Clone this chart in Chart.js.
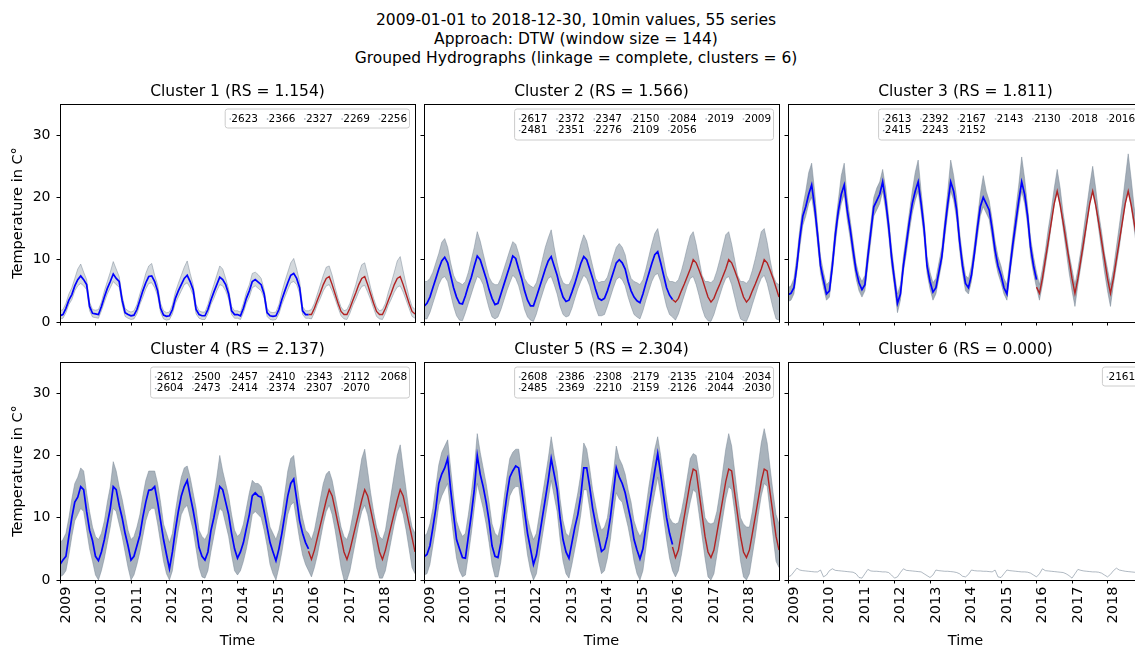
<!DOCTYPE html>
<html>
<head>
<meta charset="utf-8">
<script src="https://cdn.jsdelivr.net/npm/chart.js"></script>
<style>
  body { margin: 0; background: #fff; overflow: hidden; }
  #fig { position: relative; width: 1135px; height: 647px; overflow: hidden; background: #fff; }
  #fig canvas { position: absolute; }
  #suptitle { position: absolute; left: 0; top: 10.5px; width: 1152px; text-align: center;
    font-family: 'DejaVu Sans', sans-serif; font-size: 15.5px; line-height: 19px; color: #000; }
</style>
</head>
<body>
<div id="fig">
  <div id="suptitle">2009-01-01 to 2018-12-30, 10min values, 55 series<br>Approach: DTW (window size = 144)<br>Grouped Hydrographs (linkage = complete, clusters = 6)</div>
</div>
<script>
// tick labels
const yearTicks = [2009, 2010, 2011, 2012, 2013, 2014, 2015, 2016, 2017, 2018];
const tempTicks = [0, 10, 20, 30];

// subplot titles and legend entries (station ids)
const clusterTitles = ['Cluster 1 (RS = 1.154)', 'Cluster 2 (RS = 1.566)', 'Cluster 3 (RS = 1.811)',
  'Cluster 4 (RS = 2.137)', 'Cluster 5 (RS = 2.304)', 'Cluster 6 (RS = 0.000)'];
const c1Stations = ['2623', '2366', '2327', '2269', '2256'];
const c2Stations = ['2617', '2481', '2372', '2351', '2347', '2276', '2150', '2109', '2084', '2056', '2019', '2009'];
const c3Stations = ['2613', '2415', '2392', '2243', '2167', '2152', '2143', '2130', '2018', '2016'];
const c4Stations = ['2612', '2604', '2500', '2473', '2457', '2414', '2410', '2374', '2343', '2307', '2112', '2070', '2068'];
const c5Stations = ['2608', '2485', '2386', '2369', '2308', '2210', '2179', '2159', '2135', '2126', '2104', '2044', '2034', '2030'];
const c6Stations = ['2161'];

// monthly values (1st of each month), blue = 2009-01..2016-01, red = 2016-01..2019-01
const c1Blue = [1.0,1.2,2.2,3.5,4.4,5.8,6.8,7.4,6.8,6.0,2.5,1.4,
  1.3,1.2,2.5,4.0,5.4,6.5,7.7,7.0,6.5,3.5,1.5,1.2,
  1.0,1.1,2.0,3.5,5.0,6.3,7.3,7.4,6.5,5.0,2.2,1.1,
  0.9,1.0,2.0,3.8,5.0,6.0,7.0,7.5,6.5,5.2,2.0,1.2,
  1.0,1.0,2.0,3.5,4.8,6.0,7.2,6.8,6.0,4.5,1.8,1.2,
  1.2,1.0,2.2,3.8,5.0,6.5,6.8,6.4,6.0,4.5,1.5,1.0,
  0.9,1.0,2.0,3.6,5.0,6.3,7.5,7.8,7.0,5.5,1.8,1.2,
  1.2];
const c1Red = [1.2,1.2,2.2,3.5,4.7,6.0,7.0,7.3,6.0,4.5,3.0,1.7,
  1.2,1.2,2.2,3.5,4.7,6.0,7.0,7.3,6.0,4.5,3.0,1.7,
  1.2,1.2,2.2,3.5,4.7,6.0,7.0,7.3,6.0,4.5,3.0,1.7,
  1.3];
const c1High = [1.8,2.0,3.0,4.5,5.5,7.0,8.5,9.3,8.0,6.8,3.2,2.0,
  1.9,2.0,3.2,5.0,6.5,8.0,9.7,8.5,7.3,4.2,2.2,1.8,
  1.6,1.8,2.8,4.5,6.0,7.8,9.0,9.4,7.5,6.0,3.0,1.8,
  1.5,1.6,2.8,4.8,6.2,7.5,8.8,9.8,7.8,6.0,2.8,1.8,
  1.6,1.6,2.8,4.5,6.0,7.5,9.0,8.5,7.0,5.3,2.5,1.8,
  1.8,1.6,3.0,4.8,6.0,7.8,8.0,7.6,7.0,5.2,2.2,1.6,
  1.5,1.6,2.8,4.8,6.5,8.0,9.5,10.2,8.5,6.5,2.5,1.8,
  1.8,2.0,3.0,4.5,6.0,7.5,8.8,9.0,7.5,5.5,3.8,2.4,
  1.8,2.0,3.0,4.5,6.0,7.8,9.2,9.5,7.6,5.5,3.8,2.4,
  1.8,2.0,3.0,4.8,6.3,8.0,9.8,10.5,8.2,6.0,4.0,2.5,
  2.0];
const c1Low = [0.5,0.6,1.5,2.8,3.6,5.0,5.8,6.2,5.8,5.2,1.8,0.8,
  0.7,0.6,1.8,3.2,4.5,5.5,6.5,6.0,5.6,2.8,0.9,0.6,
  0.4,0.5,1.3,2.8,4.0,5.3,6.2,6.3,5.5,4.2,1.5,0.5,
  0.3,0.4,1.3,3.0,4.0,5.0,6.0,6.3,5.5,4.3,1.3,0.6,
  0.4,0.4,1.3,2.8,3.8,5.0,6.0,5.8,5.0,3.7,1.2,0.6,
  0.6,0.4,1.5,3.0,4.0,5.5,5.8,5.4,5.0,3.8,0.9,0.4,
  0.3,0.4,1.3,2.8,4.0,5.2,6.3,6.5,6.0,4.6,1.2,0.6,
  0.6,0.5,1.5,2.8,3.8,5.0,5.8,6.0,5.0,3.7,2.3,1.0,
  0.5,0.4,1.4,2.7,3.7,4.9,5.7,5.9,4.8,3.6,2.2,0.9,
  0.5,0.4,1.4,2.7,3.7,4.8,5.6,5.8,4.8,3.5,2.2,0.9,
  0.6];

const c2Blue = [2.5,3.0,4.0,5.5,7.0,8.5,9.8,10.4,9.5,7.5,5.5,4.0,
  3.0,2.9,4.2,5.8,7.2,9.0,10.6,10.0,8.5,7.0,5.2,3.8,
  2.8,3.0,4.5,6.0,7.5,9.0,10.6,10.2,8.5,7.0,5.0,3.5,
  2.6,2.6,4.0,5.5,7.0,8.5,9.8,10.5,9.0,7.5,5.5,4.0,
  3.3,3.5,4.8,6.2,7.8,9.4,10.5,10.0,8.5,7.0,5.2,3.8,
  3.5,3.8,5.0,6.5,8.0,9.5,10.0,9.5,8.5,6.5,5.0,4.0,
  3.4,3.1,4.5,6.2,7.8,9.4,10.8,11.3,9.5,7.5,5.5,4.3,
  3.6];
const c2Red = [3.6,3.2,3.8,5.0,6.1,7.3,8.5,10.0,9.5,8.3,7.0,5.5,
  4.0,3.2,3.8,5.0,6.1,7.3,8.5,10.0,9.5,8.3,7.0,5.5,
  4.0,3.2,3.8,5.0,6.1,7.3,8.5,10.0,9.5,8.3,7.0,5.5,
  4.0];
const c2High = [6.5,6.5,7.0,8.0,9.5,11.0,12.8,13.4,12.0,9.5,7.5,6.5,
  6.3,6.0,6.5,8.0,10.0,12.0,14.5,13.0,11.0,9.0,7.2,6.3,
  6.0,6.0,7.0,8.5,10.0,11.5,12.9,12.5,11.0,9.0,7.0,6.2,
  5.8,5.5,6.3,8.0,10.0,12.0,13.5,14.8,12.0,9.5,7.5,6.3,
  6.0,6.0,7.0,8.5,10.5,12.5,14.0,13.0,11.0,9.0,7.0,6.3,
  6.5,6.5,7.2,8.8,10.5,12.0,12.6,12.0,10.8,8.5,7.0,6.5,
  6.3,6.0,6.8,8.5,10.5,12.5,14.2,15.0,12.5,10.0,7.5,6.5,
  6.5,6.3,6.8,8.2,10.0,12.0,13.8,14.5,12.5,10.0,7.5,6.5,
  6.5,6.3,6.8,8.2,10.0,12.0,14.0,14.5,12.5,10.0,7.5,6.5,
  6.5,6.2,6.8,8.3,10.2,12.3,14.5,15.0,12.8,10.0,7.5,6.3,
  6.0];
const c2Low = [0.5,0.5,1.5,3.0,4.5,6.0,7.0,7.3,6.5,4.5,2.5,1.0,
  0.3,0.2,1.5,3.0,4.5,6.0,7.3,7.0,6.0,4.0,2.2,0.8,
  0.5,0.8,2.0,3.5,5.0,6.3,7.5,7.0,5.8,4.0,2.0,0.8,
  0.3,0.1,1.3,3.0,4.5,6.0,7.0,7.3,6.0,4.5,2.5,1.2,
  0.8,1.0,2.2,3.8,5.3,6.5,7.5,7.0,5.8,4.0,2.3,1.0,
  1.0,1.2,2.5,4.0,5.5,6.8,7.2,6.8,5.8,4.0,2.5,1.2,
  0.8,0.5,1.8,3.5,5.0,6.5,7.5,7.8,6.5,4.5,2.5,1.2,
  0.8,0.3,1.3,2.8,4.3,5.8,7.0,7.3,6.0,4.2,2.2,0.8,
  0.2,0.1,1.2,2.8,4.3,5.8,7.0,7.3,6.0,4.0,2.0,0.5,
  0.2,0.1,1.2,2.8,4.3,5.8,7.0,7.5,6.2,4.2,2.2,0.5,
  0.3];

const c3Blue = [4.4,4.6,5.5,9.0,13.5,17.0,18.5,20.5,22.0,18.5,14.0,9.0,
  6.7,4.5,5.0,9.0,14.0,17.8,20.5,22.0,18.0,15.0,11.5,8.3,
  6.3,5.2,6.0,10.5,14.5,18.5,19.5,20.5,22.5,19.5,15.5,10.5,
  6.7,3.0,4.5,9.0,12.5,16.0,19.0,21.0,22.5,19.0,15.0,9.0,
  6.5,4.8,5.5,8.0,10.5,15.0,19.0,22.5,21.0,18.0,13.0,9.0,
  6.2,5.5,7.5,11.0,15.0,18.5,20.0,19.0,18.0,15.0,11.5,9.0,
  7.5,5.5,4.5,8.5,12.5,16.0,19.5,22.5,20.5,17.0,12.0,9.0,
  6.8];
const c3Red = [5.6,4.6,7.0,10.0,13.0,16.0,19.0,21.0,18.8,16.0,13.0,10.0,
  7.0,4.6,7.0,10.0,13.0,16.0,19.0,21.0,18.8,16.0,13.0,10.0,
  7.0,4.6,7.0,10.0,13.0,16.0,19.0,21.0,18.8,16.0,13.0,10.0,
  7.0];
const c3High = [5.5,5.8,7.0,10.5,15.0,18.5,21.0,24.0,25.5,21.0,15.5,10.5,
  8.0,6.0,6.5,10.5,15.5,19.5,23.5,25.5,20.0,16.5,13.0,9.5,
  7.5,6.5,7.5,12.0,16.0,20.0,21.5,22.5,24.5,21.5,17.0,12.0,
  8.0,4.5,6.0,10.5,14.0,17.5,21.0,24.0,26.0,21.0,16.5,10.5,
  8.0,6.3,7.0,9.5,12.0,16.5,21.0,26.0,23.5,20.0,14.5,10.5,
  7.5,7.0,9.0,12.5,16.5,20.5,23.5,21.0,19.5,16.5,13.0,10.5,
  9.0,7.0,6.0,10.0,14.0,18.0,22.0,26.5,23.0,18.5,13.5,10.5,
  8.0,6.0,8.5,11.5,15.0,18.0,21.5,24.5,21.5,17.5,14.5,11.0,
  8.5,6.0,8.5,11.5,15.0,18.5,22.0,25.0,21.5,17.5,14.5,11.0,
  8.5,6.0,8.5,12.0,15.5,19.0,23.0,27.0,23.0,18.5,15.0,11.5,
  8.5];
const c3Low = [3.3,3.5,4.5,8.0,12.0,15.5,17.0,19.0,20.0,17.0,12.5,7.8,
  5.5,3.5,4.0,8.0,12.5,16.5,19.0,20.5,16.5,13.5,10.0,7.0,
  5.0,4.0,5.0,9.0,13.0,17.0,18.0,19.0,21.0,18.0,14.0,9.0,
  5.5,1.5,3.5,8.0,11.0,14.5,17.5,19.5,21.0,17.5,13.5,7.8,
  5.3,3.5,4.5,7.0,9.5,13.5,17.5,21.0,19.5,16.5,11.5,7.8,
  5.0,4.5,6.5,10.0,13.5,17.0,18.5,17.5,16.5,13.5,10.0,7.8,
  6.3,4.5,3.5,7.5,11.0,14.5,18.0,21.0,19.0,15.5,10.5,7.8,
  5.5,3.5,6.0,9.0,12.0,15.5,19.0,21.0,18.5,15.0,11.5,8.0,
  5.0,2.5,6.0,9.0,12.0,15.5,19.0,21.0,18.5,15.0,11.5,8.0,
  5.0,2.5,6.0,9.0,12.0,15.5,19.0,21.0,18.5,15.0,11.5,8.0,
  5.5];

const c4Blue = [2.5,3.2,3.8,7.0,10.0,12.5,13.3,15.0,14.5,11.0,8.0,6.3,
  3.8,3.1,4.5,6.5,9.0,11.5,15.0,14.5,12.0,10.0,7.5,5.5,
  3.2,3.8,5.5,7.2,10.1,12.5,14.4,14.5,15.0,12.5,9.5,6.5,
  4.1,1.8,4.5,8.0,11.0,13.5,15.0,16.0,13.5,11.2,8.5,5.2,
  3.8,3.2,4.5,7.9,10.0,12.5,15.0,14.5,12.5,10.5,7.5,5.0,
  3.5,4.5,6.0,8.3,10.5,13.5,14.0,13.5,13.3,11.0,8.5,6.0,
  4.5,3.1,5.0,7.5,10.5,13.5,15.5,16.2,13.0,9.5,7.5,6.0,
  5.0];
const c4Red = [4.6,3.3,4.8,6.8,8.8,10.8,12.8,14.5,13.5,11.3,9.0,6.8,
  4.5,3.3,4.8,6.8,8.8,10.8,12.8,14.5,13.5,11.3,9.0,6.8,
  4.5,3.3,4.8,6.8,8.8,10.8,12.8,14.5,13.5,11.3,9.0,6.8,
  4.5];
const c4High = [6.0,6.5,7.5,10.0,13.0,15.5,16.5,18.0,17.5,14.0,11.0,8.5,
  7.0,6.5,7.5,9.5,12.5,15.0,19.0,17.5,15.0,13.0,10.5,8.0,
  6.5,7.0,8.5,10.5,13.5,16.0,17.5,17.5,17.5,15.5,12.5,9.0,
  7.5,6.0,7.5,11.0,14.0,16.5,18.0,18.3,16.5,14.0,11.5,8.0,
  7.0,6.5,7.5,11.0,13.5,16.5,20.0,17.5,15.5,13.5,10.5,8.0,
  7.0,7.5,9.0,11.5,14.0,16.0,15.5,15.5,15.0,13.5,11.0,8.5,
  7.5,6.5,8.0,10.5,14.0,17.5,19.5,20.0,16.0,12.5,10.0,8.0,
  7.5,6.5,8.0,10.5,13.0,15.5,17.0,17.5,16.0,13.5,11.0,8.5,
  7.0,6.5,8.0,10.5,13.5,16.5,19.5,21.0,17.5,14.0,11.0,8.5,
  7.0,6.5,8.0,11.0,14.0,17.0,20.0,21.7,18.0,14.5,11.0,8.5,
  7.5];
const c4Low = [0.5,0.8,1.5,4.0,7.0,9.5,10.5,11.5,11.0,8.0,5.0,3.0,
  0.8,0.0,1.5,3.5,6.0,8.5,11.5,11.0,9.0,7.0,4.5,2.0,
  0.0,0.8,2.5,4.5,7.0,9.5,11.0,11.5,11.5,9.0,6.0,3.0,
  1.0,0.0,1.5,5.0,8.0,10.5,11.5,12.0,10.0,8.0,5.0,2.0,
  0.5,0.3,1.5,4.5,7.0,9.5,11.5,11.0,9.0,7.0,4.0,1.5,
  0.8,1.5,3.0,5.0,7.5,10.5,11.0,10.5,10.0,8.0,5.5,2.5,
  1.0,0.0,2.0,4.5,7.5,10.5,12.0,12.5,9.5,6.5,4.0,2.5,
  1.5,0.5,2.0,4.0,6.5,9.0,11.0,12.0,10.5,8.0,5.0,2.0,
  0.0,0.0,1.5,4.0,6.5,9.0,11.0,12.0,10.5,8.0,5.0,2.0,
  0.3,0.3,1.5,4.0,6.5,9.0,11.0,12.0,10.5,8.0,5.0,2.0,
  1.0];

const c5Blue = [3.7,4.1,5.5,8.4,11.5,15.5,17.0,18.0,19.5,14.5,10.5,6.5,
  5.0,3.6,3.5,7.0,10.5,14.5,20.0,17.0,15.0,12.5,9.5,5.5,
  3.8,3.6,6.0,10.0,13.5,16.5,17.5,18.3,18.0,14.5,11.0,7.5,
  5.0,2.5,4.0,7.0,10.0,13.0,16.0,19.5,17.0,14.5,10.0,6.5,
  4.5,3.5,6.0,8.5,10.5,13.5,18.0,18.0,15.0,11.5,9.0,6.8,
  4.6,5.0,7.0,10.0,14.0,18.0,16.5,15.5,14.0,11.7,9.5,6.5,
  4.8,3.4,5.0,8.5,11.5,14.5,17.5,20.3,17.0,13.5,10.0,7.5,
  5.7];
const c5Red = [5.3,3.6,4.8,7.5,10.2,13.0,15.8,17.8,17.5,14.0,10.5,7.0,
  4.5,3.6,4.8,7.5,10.2,13.0,15.8,17.8,17.5,14.0,10.5,7.0,
  4.5,3.6,4.8,7.5,10.2,13.0,15.8,17.8,17.5,14.0,10.5,7.0,
  4.8];
const c5High = [7.0,7.5,9.0,11.5,15.0,18.5,20.5,21.5,22.5,18.0,13.5,9.5,
  8.0,7.0,7.5,10.5,14.0,18.0,23.5,20.5,18.0,15.5,12.5,9.0,
  7.5,7.0,9.0,13.0,16.5,19.5,20.5,21.0,21.0,17.5,14.0,10.0,
  8.0,6.5,7.5,10.5,13.5,16.5,19.5,23.0,20.0,17.5,13.0,9.5,
  7.5,7.0,9.0,11.5,14.0,17.0,22.0,21.0,18.0,14.5,12.0,9.5,
  8.0,8.5,10.0,13.5,17.0,21.5,19.5,18.5,17.0,14.5,12.5,9.5,
  8.0,7.0,8.0,11.5,15.0,18.0,21.0,23.0,20.0,16.5,13.0,10.0,
  9.2,9.0,9.2,11.0,13.5,16.5,19.5,20.3,20.0,17.0,13.5,10.0,
  9.2,9.0,9.2,11.0,14.0,17.5,21.0,23.5,21.5,17.5,13.5,10.0,
  9.0,8.5,8.5,11.0,14.5,18.5,22.0,24.3,22.0,18.0,14.0,10.5,
  9.0];
const c5Low = [0.8,1.0,2.5,5.5,8.5,12.0,13.5,14.5,15.5,11.0,7.0,3.5,
  1.5,0.5,0.8,4.0,7.5,11.5,15.5,13.5,11.5,9.0,6.0,2.5,
  0.5,0.5,3.0,7.0,10.5,13.5,14.5,15.0,15.0,11.5,7.5,4.0,
  1.5,0.0,1.0,4.0,7.0,10.0,13.0,16.0,13.5,11.0,6.5,3.0,
  1.0,0.3,2.5,5.0,7.5,10.5,14.5,14.5,11.5,8.0,5.5,3.0,
  1.0,1.5,3.5,6.5,10.5,14.0,13.0,12.5,10.5,8.5,6.0,3.0,
  1.0,0.0,1.5,5.0,8.5,11.5,14.0,16.5,13.5,10.0,6.5,3.5,
  1.5,0.5,1.5,4.0,7.0,10.0,12.5,14.5,14.0,10.5,7.0,3.5,
  0.5,0.0,1.0,4.0,7.0,10.0,13.0,15.0,14.5,11.0,7.0,3.0,
  0.5,0.0,1.0,4.0,7.0,10.5,13.5,15.5,15.0,11.0,7.0,3.0,
  2.0];

const c6Line = [0.5,0.7,1.3,1.9,1.6,1.5,1.45,1.4,1.35,1.3,1.3,1.6,
  0.5,0.8,1.5,1.8,1.55,1.5,1.45,1.4,1.35,1.3,1.25,1.0,
  0.4,0.3,1.0,1.7,1.45,1.4,1.4,1.35,1.3,1.3,1.2,0.8,
  0.3,0.5,1.2,1.8,1.55,1.5,1.45,1.4,1.35,1.3,1.0,0.7,
  0.4,0.8,1.6,1.5,1.45,1.4,1.4,1.35,1.3,1.2,1.0,0.6,
  0.5,0.9,1.6,1.5,1.45,1.45,1.4,1.4,1.35,1.3,1.6,0.5,
  0.4,1.0,1.6,1.5,1.45,1.4,1.35,1.3,1.3,1.25,1.1,0.8,
  0.5,1.0,1.8,1.5,1.45,1.4,1.35,1.3,1.25,1.2,1.0,0.7,
  0.3,1.0,1.7,1.55,1.45,1.4,1.35,1.3,1.3,1.25,1.1,0.8,
  0.5,0.9,1.5,1.9,1.6,1.5,1.4,1.35,1.3,1.25,1.2,1.1,
  1.0];

const FONT = "'DejaVu Sans', sans-serif";
Chart.defaults.font.family = FONT;
Chart.defaults.color = '#000';

// month index -> decimal year on the x axis
function toPoints(values, startMonth) {
  return values.map((v, i) => ({ x: 2009 + (startMonth + i) / 12, y: v }));
}

// spines, subplot title and legend box drawn on top of the axes
const decor = {
  id: 'decor',
  afterDraw(chart, args, opts) {
    const { ctx, chartArea: a } = chart;
    ctx.save();
    ctx.strokeStyle = '#000';
    ctx.lineWidth = 1;
    ctx.strokeRect(Math.round(a.left) + 0.5, Math.round(a.top) + 0.5,
      Math.round(a.right - a.left), Math.round(a.bottom - a.top));

    ctx.fillStyle = '#000';
    ctx.font = '15.5px ' + FONT;
    ctx.textAlign = 'center';
    ctx.textBaseline = 'middle';
    ctx.fillText(opts.title, (a.left + a.right) / 2, a.top - 12);

    const labels = opts.stations;
    const n = labels.length, ncol = Math.min(n, 7), rows = Math.ceil(n / ncol);
    const full = n - ncol * (rows - 1);
    const colW = 37.3, boxW = 35.1 + (ncol - 1) * colW, boxH = rows === 1 ? 19 : 31;
    const x0 = a.right - 5.5 - boxW, y0 = a.top + 5, r = 2.5;
    ctx.beginPath();
    ctx.moveTo(x0 + r, y0);
    ctx.arcTo(x0 + boxW, y0, x0 + boxW, y0 + boxH, r);
    ctx.arcTo(x0 + boxW, y0 + boxH, x0, y0 + boxH, r);
    ctx.arcTo(x0, y0 + boxH, x0, y0, r);
    ctx.arcTo(x0, y0, x0 + boxW, y0, r);
    ctx.closePath();
    ctx.fillStyle = 'rgba(255,255,255,0.8)';
    ctx.fill();
    ctx.strokeStyle = '#cccccc';
    ctx.stroke();

    ctx.font = '10.5px ' + FONT;
    ctx.textAlign = 'left';
    let k = 0;
    for (let c = 0; c < ncol; c++) {
      const cnt = c < full ? rows : rows - 1;
      for (let j = 0; j < cnt; j++) {
        const tx = x0 + 4.3 + c * colW, ty = y0 + 10 + j * 11.7;
        ctx.strokeStyle = '#778899';
        ctx.beginPath();
        ctx.moveTo(tx, ty);
        ctx.lineTo(tx + 1.5, ty);
        ctx.stroke();
        ctx.fillStyle = '#000';
        ctx.fillText(labels[k++], tx + 1.8, ty);
      }
    }
    ctx.restore();
  }
};

const clusters = [
  { blue: c1Blue, red: c1Red, high: c1High, low: c1Low, stations: c1Stations, shade: 0.3 },
  { blue: c2Blue, red: c2Red, high: c2High, low: c2Low, stations: c2Stations, shade: 0.5 },
  { blue: c3Blue, red: c3Red, high: c3High, low: c3Low, stations: c3Stations, shade: 0.65 },
  { blue: c4Blue, red: c4Red, high: c4High, low: c4Low, stations: c4Stations, shade: 0.6 },
  { blue: c5Blue, red: c5Red, high: c5High, low: c5Low, stations: c5Stations, shade: 0.6 },
  { single: c6Line, stations: c6Stations }
];

const colLeft = [60, 424, 788], rowTop = [104, 362];
const axW = 355, axH = 218, padL = 60, padT = 30, padR = 10, padB = 70;
const fig = document.getElementById('fig');

clusters.forEach((cl, idx) => {
  const col = idx % 3, row = Math.floor(idx / 3);
  const canvas = document.createElement('canvas');
  const w = padL + axW + padR, h = padT + axH + padB;
  canvas.width = w; canvas.height = h;
  canvas.style.width = w + 'px'; canvas.style.height = h + 'px';
  canvas.style.left = (colLeft[col] - padL) + 'px';
  canvas.style.top = (rowTop[row] - padT) + 'px';
  fig.appendChild(canvas);

  let datasets;
  if (cl.single) {
    datasets = [{ data: toPoints(cl.single, 0), borderColor: 'rgba(112,128,144,0.55)', borderWidth: 1 }];
  } else {
    datasets = [
      { data: toPoints(cl.blue, 0), borderColor: '#0000ff', borderWidth: 1.7, order: 0 },
      { data: toPoints(cl.red, 84), borderColor: '#b22222', borderWidth: 1.4, order: 0 },
      { data: toPoints(cl.high, 0), borderColor: 'rgba(112,128,144,0.45)', borderWidth: 1,
        fill: '+1', backgroundColor: 'rgba(112,128,144,' + cl.shade + ')', order: 1 },
      { data: toPoints(cl.low, 0), borderColor: 'rgba(112,128,144,0.45)', borderWidth: 1, order: 1 }
    ];
  }

  new Chart(canvas.getContext('2d'), {
    type: 'line',
    data: { datasets },
    options: {
      responsive: false,
      animation: false,
      events: [],
      layout: { padding: { left: 0, top: padT, right: padR, bottom: 0 } },
      elements: { point: { radius: 0 }, line: { tension: 0, fill: false } },
      plugins: {
        legend: { display: false },
        tooltip: { enabled: false },
        decor: { title: clusterTitles[idx], stations: cl.stations }
      },
      scales: {
        x: {
          type: 'linear', min: 2009, max: 2019,
          afterFit: s => { s.height = padB; },
          afterBuildTicks: s => { s.ticks = yearTicks.map(v => ({ value: v })); },
          grid: { drawOnChartArea: false, drawTicks: true, tickLength: 3.5, tickColor: '#000' },
          border: { display: true, color: '#000', width: 1 },
          ticks: {
            display: row === 1, autoSkip: false, minRotation: 90, maxRotation: 90,
            padding: 3, labelOffset: 6, font: { size: 14.5 }, color: '#000',
            callback: v => String(v)
          },
          title: { display: row === 1, text: 'Time', font: { size: 14.5 }, color: '#000',
            padding: { top: 0, bottom: 0.5 } }
        },
        y: {
          min: 0, max: 35,
          afterFit: s => { s.width = padL; },
          afterBuildTicks: s => { s.ticks = tempTicks.map(v => ({ value: v })); },
          grid: { drawOnChartArea: false, drawTicks: true, tickLength: 3.5, tickColor: '#000' },
          border: { display: true, color: '#000', width: 1 },
          ticks: { display: col === 0, padding: 6, font: { size: 14 }, color: '#000',
            callback: v => String(v) },
          title: { display: col === 0, text: 'Temperature in C°', font: { size: 14.5 }, color: '#000',
            padding: { top: 9.5, bottom: 0 } }
        }
      }
    },
    plugins: [decor]
  });
});
</script>
</body>
</html>
